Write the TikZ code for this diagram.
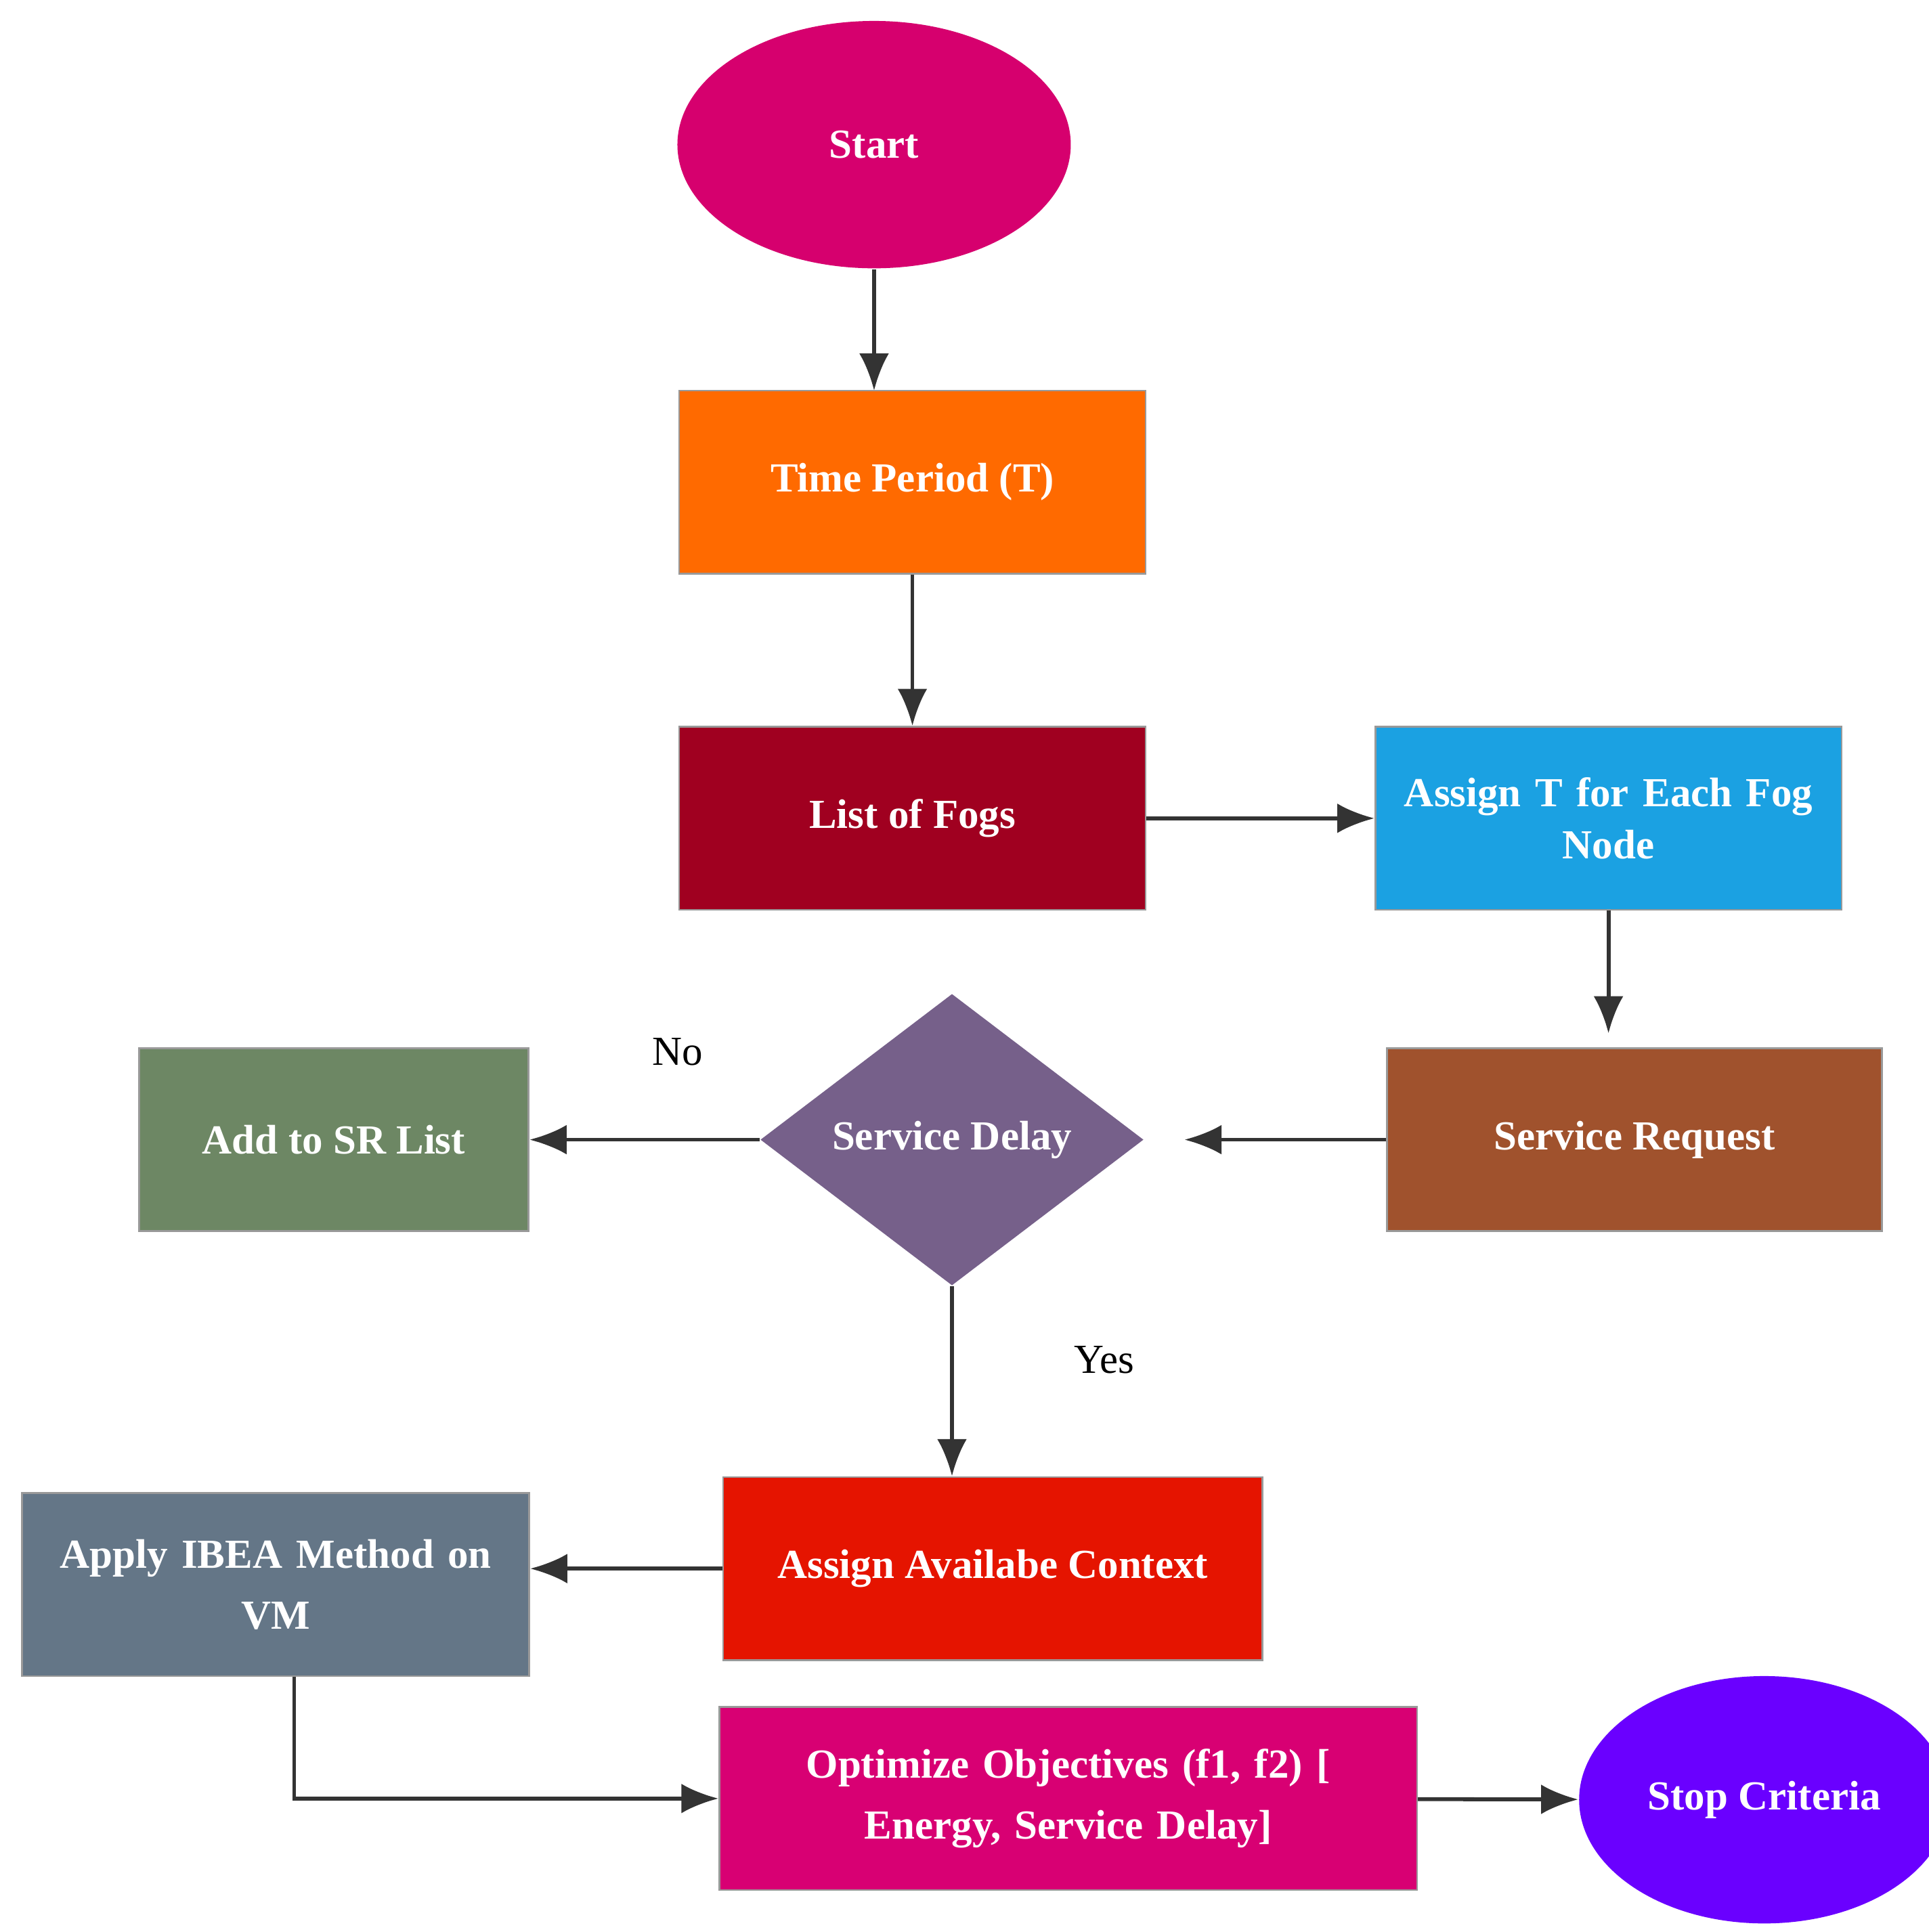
\documentclass[tikz,border=0pt]{standalone}
\usepackage{fontspec}
\setmainfont{Liberation Serif}
\usetikzlibrary{shapes.geometric,arrows.meta,positioning}
\definecolor{cstart}{HTML}{D6006E}
\definecolor{ctime}{HTML}{FF6A00}
\definecolor{cfogs}{HTML}{A00020}
\definecolor{cassign}{HTML}{1BA1E2}
\definecolor{crequest}{HTML}{A0522D}
\definecolor{cdelay}{HTML}{76608A}
\definecolor{csrlist}{HTML}{6D8764}
\definecolor{ccontext}{HTML}{E51400}
\definecolor{cibea}{HTML}{647687}
\definecolor{coptim}{HTML}{D80073}
\definecolor{cstop}{HTML}{6A00FF}
\tikzset{
  box/.style={rectangle,draw=black!40,minimum height=1.48cm,text=white,font=\fontsize{9.5}{14}\selectfont\bfseries,align=center,inner sep=2pt},
  flow/.style={draw=black!80,line width=0.9pt,-{Latex[length=3mm,width=2.4mm]}},
  lbl/.style={font=\fontsize{9.5}{12}\selectfont}
}
\begin{document}
\begin{tikzpicture}[x=0.01cm,y=-0.01cm]
\useasboundingbox (0,0) rectangle (1560,1563);
% nodes
\node[ellipse,fill=cstart,minimum width=3.18cm,minimum height=2cm,text=white,font=\fontsize{9.5}{12}\selectfont\bfseries] (start) at (707,117) {Start};
\node[box,fill=ctime,minimum width=3.77cm] (time) at (738,390) {Time Period (T)};
\node[box,fill=cfogs,minimum width=3.77cm] (fogs) at (738,662) {List of Fogs};
\node[box,fill=cassign,minimum width=3.77cm,text width=3.6cm] (assign) at (1301,662) {Assign T for Each Fog\\[-2pt]Node};
\node[box,fill=crequest,minimum width=4cm] (request) at (1322,922) {Service Request};
\node[diamond,fill=cdelay,minimum width=3.1cm,minimum height=2.36cm,aspect=1.3,inner sep=0pt,text=white,font=\fontsize{9.5}{12}\selectfont\bfseries] (delay) at (770,922) {Service Delay};
\node[box,fill=csrlist,minimum width=3.15cm] (srlist) at (270,922) {Add to SR List};
\node[box,fill=ccontext,minimum width=4.36cm] (context) at (803,1269) {Assign Availabe Context};
\node[box,fill=cibea,minimum width=4.1cm,text width=3.9cm] (ibea) at (223,1282) {Apply IBEA Method on\\VM};
\node[box,fill=coptim,minimum width=5.64cm,text width=5.3cm] (optim) at (864,1455) {Optimize Objectives (f1, f2) [\\Energy, Service Delay]};
\node[ellipse,fill=cstop,minimum width=2.5cm,minimum height=2cm,text=white,font=\fontsize{9.5}{12}\selectfont\bfseries] (stop) at (1427,1456) {Stop Criteria};
\node[lbl] (no) at (548,851) {No};
\node[lbl] (yes) at (893,1100) {Yes};
% connectors
\coordinate (tin) at (707,316);
\coordinate (rin) at (1301,836);
\coordinate (din) at (958,922);
\coordinate (bend) at (238,1455);
\draw[flow] (start) -- (tin);
\draw[flow] (time) -- (fogs);
\draw[flow] (fogs) -- (assign);
\draw[flow] (assign) -- (rin);
\draw[flow] (request) -- (din);
\draw[flow] (delay) -- (srlist);
\draw[flow] (delay) -- (delay |- context.north);
\draw[flow] (context) -- (ibea.east |- context);
\draw[flow] (ibea.south -| bend) -- (bend) -- (optim);
\draw[flow] (optim) -- (stop);
\end{tikzpicture}
\end{document}
